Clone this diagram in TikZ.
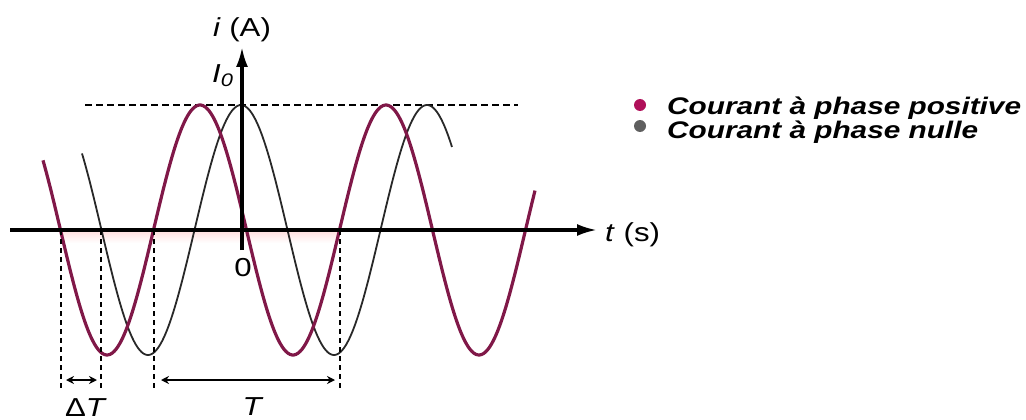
\documentclass[tikz,border=0pt]{standalone}
\usepackage{fontspec}
\setmainfont{Liberation Sans}
\usepackage{graphicx}
\usetikzlibrary{arrows.meta}
\definecolor{curvpurple}{RGB}{128,24,72}
\definecolor{curvgray}{RGB}{40,40,40}
\definecolor{dotpurple}{RGB}{176,16,90}
\definecolor{dotgray}{RGB}{95,95,95}
\newcommand{\hstretch}[1]{\scalebox{1.2}[1]{#1}}
\newcommand{\legstretch}[1]{\scalebox{1.24}[1]{#1}}
\begin{document}
\begin{tikzpicture}[x=1pt,y=-1pt,
  axisline/.style={line width=3.2pt,-{Latex[length=20pt,width=12pt]}},
  peakline/.style={line width=2.6pt,dash pattern=on 7pt off 4pt},
  dropline/.style={line width=2.8pt,dash pattern=on 5pt off 4pt},
  dimline/.style={line width=2.4pt,{Stealth[length=8pt,width=8pt]}-{Stealth[length=8pt,width=8pt]}},
  poscurve/.style={curvpurple,line width=3.2pt},
  nulcurve/.style={curvgray,line width=1.8pt},
  axlabel/.style={inner sep=0pt,font=\fontsize{26}{29}\selectfont},
  legtext/.style={inner sep=0pt,anchor=base west,font=\fontsize{24}{27}\selectfont\bfseries\itshape},
  legdot/.style={circle,inner sep=0pt,minimum size=12pt}]
\useasboundingbox (0,0) rectangle (1026,420);

% faint shadow under the axis
\shade[top color=pink!50,bottom color=white] (61,231) rectangle (340,243);

% peak level
\coordinate (pkL) at (85,105);
\coordinate (pkR) at (518,105);
\draw[peakline] (pkL) -- (pkR);

% curves
\draw[nulcurve] plot[domain=82:452,samples=250,smooth] (\x,{230-125*cos(((\x-241)/186)*360)});
\draw[poscurve] plot[domain=43:535,samples=250,smooth] (\x,{230-125*cos(((\x-200)/186)*360)});

% axes
\coordinate (xs) at (10,230);
\coordinate (xe) at (597,230);
\coordinate (yb) at (242,250);
\coordinate (ye) at (242,47);
\draw[axisline] (xs) -- (xe);
\draw[axisline] (yb) -- (ye);

% drop lines
\coordinate (a1) at (61,230);  \coordinate (b1) at (61,390);
\coordinate (a2) at (101,230); \coordinate (b2) at (101,390);
\coordinate (a3) at (154,230); \coordinate (b3) at (154,390);
\coordinate (a4) at (340,230); \coordinate (b4) at (340,390);
\draw[dropline] (a1) -- (b1);
\draw[dropline] (a2) -- (b2);
\draw[dropline] (a3) -- (b3);
\draw[dropline] (a4) -- (b4);

% dimension arrows
\coordinate (d1) at (66,380);  \coordinate (d2) at (97,380);
\coordinate (d3) at (161,380); \coordinate (d4) at (335,380);
\draw[dimline] (d1) -- (d2);
\draw[dimline] (d3) -- (d4);

% labels
\node[axlabel] (lblI) at (242,30) {\hstretch{\textit{i} (A)}};
\node[axlabel,anchor=base west] (lblI0) at (212,82) {\hstretch{\textit{I}\textsubscript{\textit{0}}}};
\node[axlabel,anchor=base west] (lblt) at (605,241) {\hstretch{\textit{t} (s)}};
\node[axlabel] (lbl0) at (243,268) {\hstretch{0}};
\node[axlabel,anchor=base] (lbldT) at (86,416) {\hstretch{Δ\textit{T}}};
\node[axlabel,anchor=base] (lblT) at (253,415) {\hstretch{\textit{T}}};

% legend
\node[legdot,fill=dotpurple] (dot1) at (640,105) {};
\node[legdot,fill=dotgray] (dot2) at (640,126) {};
\node[legtext] (leg1) at (667,114) {\legstretch{Courant à phase positive}};
\node[legtext] (leg2) at (667,138) {\legstretch{Courant à phase nulle}};
\end{tikzpicture}
\end{document}
